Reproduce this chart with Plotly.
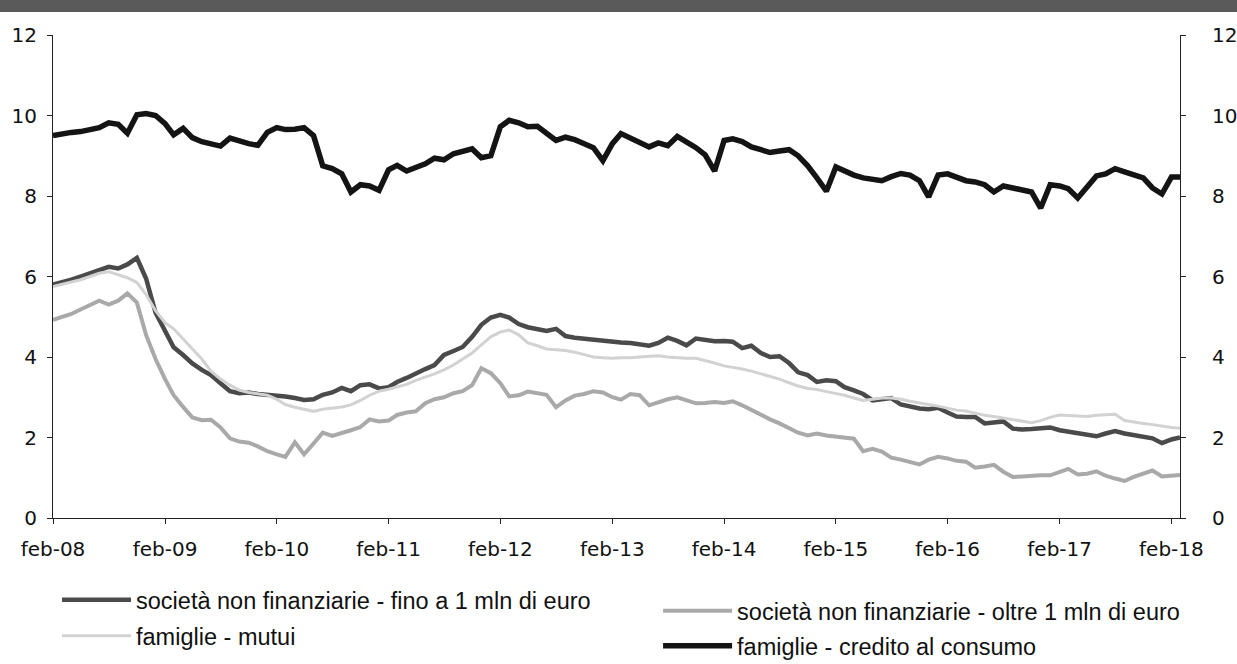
import pandas as pd
import plotly.graph_objects as go

# Monthly observations, feb-2008 .. mar-2018
months = pd.date_range("2008-02-01", "2018-03-01", freq="MS")

tick_dates = ["2008-02-01", "2009-02-01", "2010-02-01", "2011-02-01", "2012-02-01",
              "2013-02-01", "2014-02-01", "2015-02-01", "2016-02-01", "2017-02-01",
              "2018-02-01"]
tick_labels = ["feb-08", "feb-09", "feb-10", "feb-11", "feb-12", "feb-13",
               "feb-14", "feb-15", "feb-16", "feb-17", "feb-18"]
y_ticks = [0, 2, 4, 6, 8, 10, 12]

name_fino = "società non finanziarie - fino a 1 mln di euro"
name_oltre = "società non finanziarie - oltre 1 mln di euro"
name_mutui = "famiglie - mutui"
name_credito = "famiglie - credito al consumo"

snf_fino = [
    5.80, 5.85, 5.92, 6.00, 6.08, 6.18, 6.24, 6.20, 6.30, 6.46, 5.95, 5.10,
    4.65, 4.24, 4.05, 3.84, 3.68, 3.55, 3.35, 3.15, 3.10, 3.12, 3.08, 3.06,
    3.05, 3.02, 2.98, 2.93, 2.95, 3.06, 3.12, 3.23, 3.15, 3.30, 3.32, 3.22,
    3.25, 3.38, 3.48, 3.60, 3.70, 3.80, 4.05, 4.15, 4.25, 4.50, 4.80, 4.98,
    5.05, 4.98, 4.82, 4.74, 4.68, 4.65, 4.70, 4.52, 4.48, 4.45, 4.42, 4.40,
    4.38, 4.36, 4.35, 4.32, 4.28, 4.35, 4.48, 4.40, 4.29, 4.46, 4.42, 4.39,
    4.40, 4.38, 4.22, 4.28, 4.10, 4.00, 4.02, 3.85, 3.62, 3.55, 3.38, 3.42,
    3.40, 3.25, 3.17, 3.08, 2.92, 2.95, 2.98, 2.82, 2.76, 2.72, 2.70, 2.74,
    2.62, 2.52, 2.51, 2.51, 2.35, 2.38, 2.40, 2.22, 2.20, 2.21, 2.24, 2.25,
    2.18, 2.14, 2.10, 2.06, 2.03, 2.10, 2.16, 2.10, 2.06, 2.02, 1.98, 1.86,
    1.95, 2.00,
]

snf_oltre = [
    4.92, 5.00, 5.07, 5.18, 5.28, 5.40, 5.30, 5.40, 5.58, 5.35, 4.55, 3.95,
    3.45, 3.05, 2.76, 2.50, 2.43, 2.44, 2.25, 1.98, 1.90, 1.87, 1.78, 1.66,
    1.58, 1.52, 1.88, 1.58, 1.85, 2.12, 2.04, 2.10, 2.18, 2.26, 2.45, 2.40,
    2.42, 2.56, 2.62, 2.65, 2.85, 2.95, 3.00, 3.10, 3.15, 3.30, 3.72, 3.60,
    3.35, 3.02, 3.05, 3.14, 3.10, 3.06, 2.75, 2.92, 3.04, 3.08, 3.15, 3.12,
    3.00, 2.94, 3.08, 3.05, 2.80, 2.88, 2.95, 3.00, 2.92, 2.85, 2.86, 2.88,
    2.86, 2.90, 2.80, 2.68, 2.55, 2.45, 2.35, 2.24, 2.12, 2.05, 2.10, 2.05,
    2.02, 2.00, 1.97, 1.66, 1.72, 1.65, 1.50, 1.45, 1.38, 1.33, 1.45, 1.52,
    1.48, 1.42, 1.40, 1.25, 1.28, 1.32, 1.15, 1.02, 1.03, 1.05, 1.06, 1.06,
    1.15, 1.22, 1.08, 1.10, 1.16, 1.05, 0.98, 0.92, 1.02, 1.10, 1.18, 1.03,
    1.05, 1.07,
]

fam_mutui = [
    5.75, 5.80, 5.85, 5.92, 6.00, 6.08, 6.12, 6.05, 5.97, 5.85, 5.55, 5.15,
    4.85, 4.70, 4.45, 4.20, 3.95, 3.65, 3.45, 3.30, 3.18, 3.12, 3.08, 3.05,
    2.95, 2.82, 2.75, 2.70, 2.65, 2.70, 2.73, 2.76, 2.81, 2.92, 3.05, 3.15,
    3.20, 3.25, 3.32, 3.42, 3.50, 3.58, 3.68, 3.80, 3.95, 4.10, 4.30, 4.50,
    4.62, 4.67, 4.55, 4.35, 4.28, 4.20, 4.18, 4.16, 4.12, 4.05, 4.00, 3.98,
    3.97, 3.98, 3.98, 4.00, 4.02, 4.03, 4.00, 3.98, 3.97, 3.97, 3.92, 3.85,
    3.78, 3.75, 3.70, 3.65, 3.58, 3.52, 3.45, 3.36, 3.28, 3.22, 3.19, 3.14,
    3.10, 3.05, 2.98, 2.92, 2.95, 2.98, 2.98, 2.95, 2.90, 2.85, 2.82, 2.78,
    2.72, 2.68, 2.66, 2.60, 2.55, 2.52, 2.48, 2.45, 2.40, 2.37, 2.42, 2.50,
    2.56, 2.55, 2.53, 2.52, 2.55, 2.57, 2.58, 2.42, 2.38, 2.35, 2.32, 2.28,
    2.25, 2.23,
]

fam_credito = [
    9.50, 9.55, 9.58, 9.60, 9.65, 9.70, 9.82, 9.78, 9.56, 10.02, 10.05, 10.00,
    9.80, 9.52, 9.68, 9.45, 9.35, 9.30, 9.24, 9.44, 9.36, 9.30, 9.26, 9.58,
    9.70, 9.65, 9.66, 9.70, 9.50, 8.75, 8.68, 8.55, 8.10, 8.28, 8.25, 8.14,
    8.65, 8.76, 8.62, 8.72, 8.80, 8.94, 8.90, 9.05, 9.10, 9.17, 8.95, 9.00,
    9.72, 9.88, 9.82, 9.72, 9.73, 9.55, 9.38, 9.46, 9.40, 9.30, 9.20, 8.88,
    9.30, 9.55, 9.45, 9.35, 9.22, 9.32, 9.25, 9.48, 9.36, 9.20, 9.02, 8.62,
    9.38, 9.42, 9.35, 9.22, 9.15, 9.08, 9.12, 9.15, 9.00, 8.75, 8.45, 8.12,
    8.72, 8.62, 8.52, 8.45, 8.40, 8.38, 8.48, 8.56, 8.52, 8.38, 7.98, 8.52,
    8.55, 8.45, 8.38, 8.35, 8.28, 8.10, 8.25, 8.20, 8.15, 8.10, 7.70, 8.28,
    8.25, 8.18, 7.95, 8.20, 8.50, 8.55, 8.68, 8.60, 8.52, 8.45, 8.20, 8.05,
    8.47, 8.47,
]

FONT = "DejaVu Sans"
LEG_FONT = "Liberation Sans"

fig = go.Figure()
fig.add_trace(go.Scatter(x=months, y=snf_fino, name=name_fino, mode="lines",
                         line=dict(color="#4a4a4a", width=4.5), legend="legend"))
fig.add_trace(go.Scatter(x=months, y=snf_oltre, name=name_oltre, mode="lines",
                         line=dict(color="#a9a9a9", width=4), legend="legend2"))
fig.add_trace(go.Scatter(x=months, y=fam_mutui, name=name_mutui, mode="lines",
                         line=dict(color="#d2d2d2", width=3), legend="legend3"))
fig.add_trace(go.Scatter(x=months, y=fam_credito, name=name_credito, mode="lines",
                         line=dict(color="#141414", width=5.5), legend="legend4",
                         yaxis="y2"))

axis_common = dict(showgrid=False, zeroline=False, showline=True, linecolor="#222",
                   linewidth=1, ticks="outside", ticklen=5, tickcolor="#222",
                   automargin=False,
                   tickfont=dict(family=FONT, size=20, color="#111"))


def leg(xc, yc):
    return dict(xref="container", yref="container", x=xc, y=yc,
                xanchor="left", yanchor="middle", itemwidth=69,
                font=dict(family=LEG_FONT, size=23.5, color="#111"),
                bgcolor="rgba(0,0,0,0)", borderwidth=0)


fig.update_layout(
    width=1237, height=664,
    showlegend=True,
    margin=dict(l=53, r=57, t=35, b=146, autoexpand=False),
    paper_bgcolor="white", plot_bgcolor="white",
    xaxis=dict(**axis_common, type="date",
               range=[months[0], months[-1]],
               tickvals=tick_dates, ticktext=tick_labels,
               ticklabelstandoff=8),
    yaxis=dict(**axis_common, range=[0, 12], tickvals=y_ticks,
               ticklabelstandoff=6),
    yaxis2=dict(**axis_common, range=[0, 12], tickvals=y_ticks,
                overlaying="y", side="right", ticklabelstandoff=22),
    legend=leg(0.0461, 0.0964),
    legend2=leg(0.532, 0.0798),
    legend3=leg(0.0461, 0.0422),
    legend4=leg(0.532, 0.0270),
    shapes=[dict(type="rect", xref="paper", yref="paper", yanchor=1,
                 ysizemode="pixel", x0=-0.06, x1=1.06, y0=23, y1=45,
                 fillcolor="#5a5a5a", line=dict(width=0), layer="below")],
)

fig.write_html("out.html", config={"displayModeBar": False},
               post_script="document.body.style.margin='0';")
